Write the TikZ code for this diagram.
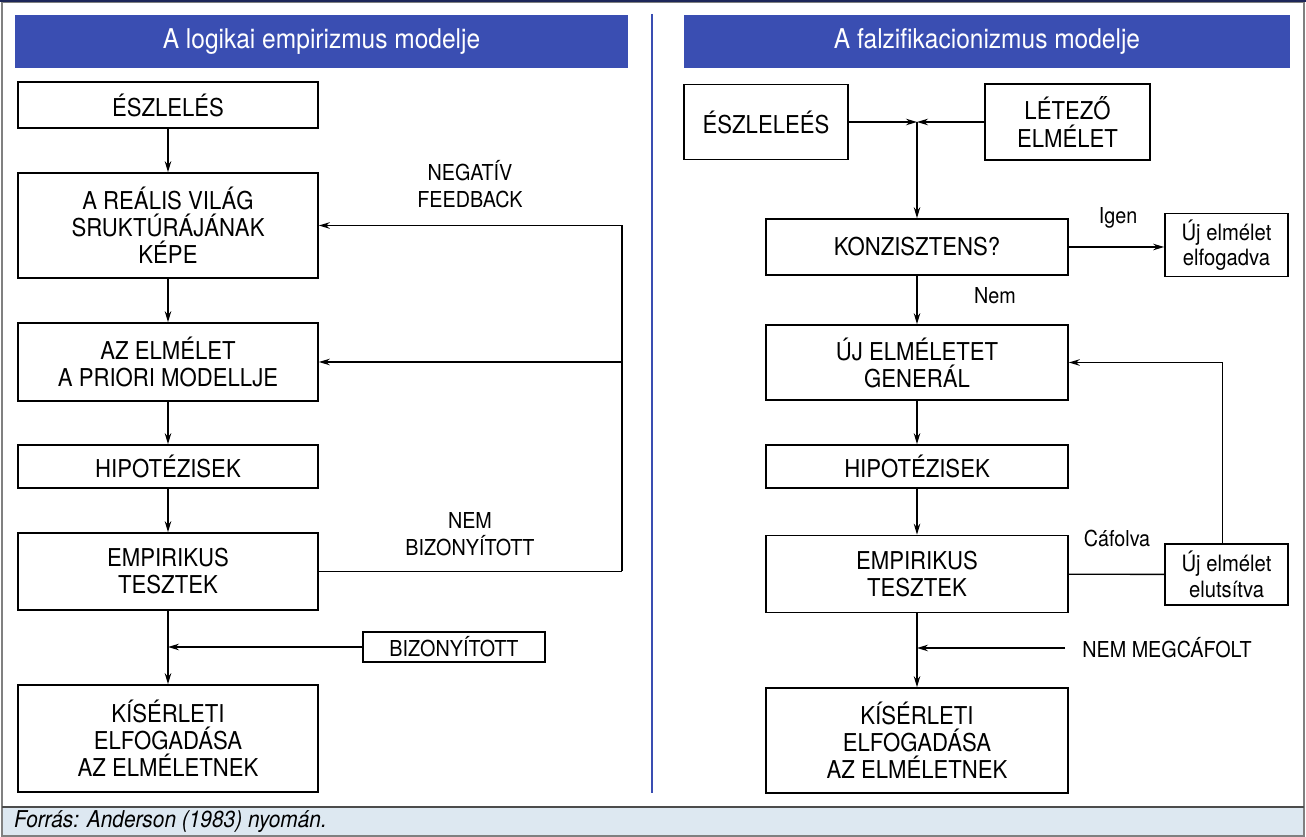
\documentclass[tikz,border=0pt]{standalone}
\usepackage{fontspec}
\setmainfont{TeX Gyre Heros}[FakeStretch=0.9]
\usepackage{xcolor}
\usepackage{tikz}
\usetikzlibrary{arrows.meta}
\usetikzlibrary{positioning}
\definecolor{titleblue}{RGB}{58,78,178}
\definecolor{footblue}{RGB}{221,232,241}
\tikzset{
    mybox/.style = {rectangle, draw=black, line width=0.95pt, align=center, fill=white, font=\fontsize{14}{15.4}\selectfont, minimum width=6cm, inner sep=1pt},
    mysmall/.style = {rectangle, draw=black, line width=0.95pt, align=center, font=\fontsize{12.8}{14.6}\selectfont, inner sep=1pt},
    mytitle/.style = {rectangle, fill=titleblue, text=white, font=\fontsize{15.5}{17}\selectfont, minimum height=1.06cm, inner sep=0pt},
}

\begin{document}
\begin{tikzpicture}[
	x=0.02cm, y=-0.02cm,
	font=\fontsize{12.5}{15.6}\selectfont
]
\tikzset{
    mylabel/.style = {align=center, inner sep=1pt},
    edgen/.style = {-, line width=0.75pt},
    edgea/.style = {-{Stealth[length=2.2mm,width=1.3mm]}, line width=0.75pt}
}
\useasboundingbox (0,0) rectangle (1306,837);
% frame and footer
\fill[footblue] (2,808) rectangle (1304,836);
\draw[gray, line width=0.6pt] (2,2) rectangle (1304,836);
\draw[titleblue!50!black, line width=1.6pt] (0,1) -- (1306,1);
\draw[gray!60!black, line width=1.2pt] (2,807) -- (1304,807);
\draw[titleblue, line width=1.6pt] (652,14) -- (652,793);
\node[anchor=west, font=\fontsize{13.2}{14}\selectfont\itshape] (src) at (8,822) {Forrás: Anderson (1983) nyomán.};
%
\node[mytitle, minimum width=12.26cm] (t1) at (321.5,41.5) {A logikai empirizmus modelje};
\node[mytitle, minimum width=12.12cm] (t2) at (987,41.5) {A falzifikacionizmus modelje};
%
\node[mybox, minimum height=0.92cm] (esz) at (168,105) {ÉSZLELÉS};
\node[mybox, minimum height=2.1cm] (kep) at (168,225.5) {A REÁLIS VILÁG\\SRUKTÚRÁJÁNAK\\KÉPE};
\node[mybox, minimum height=1.56cm] (mod) at (168,362) {AZ ELMÉLET\\A PRIORI MODELLJE};
\node[mybox, minimum height=0.86cm] (hip) at (168,466.5) {HIPOTÉZISEK};
\node[mybox, minimum height=1.54cm] (emp) at (168,571.5) {EMPIRIKUS\\TESZTEK};
\node[mybox, minimum height=2.14cm] (kis) at (168,738.5) {KÍSÉRLETI\\ELFOGADÁSA\\AZ ELMÉLETNEK};
\node[mysmall, font=\fontsize{12.5}{14}\selectfont, minimum width=3.64cm, minimum height=0.6cm] (biz) at (454,647) {BIZONYÍTOTT};
\node[mylabel] (neg) at (470,184) {NEGATÍV\\FEEDBACK};
\node[mylabel] (nbiz) at (470,534) {NEM\\BIZONYÍTOTT};
\coordinate (fb) at (622,571.5);
%
\draw[edgea] (esz) -- (kep);
\draw[edgea] (kep) -- (mod);
\draw[edgea] (mod) -- (hip);
\draw[edgea] (hip) -- (emp);
\draw[edgea] (emp) -- (kis);
\draw[edgen] (emp.east) -- (fb);
\draw[edgea] (fb) |- (kep.east);
\draw[edgea] (fb |- mod.east) -- (mod.east);
\draw[edgea] (biz) -- (biz -| emp.south);
%
\node[mybox, minimum width=3.28cm, minimum height=1.5cm] (esz2) at (766,122) {ÉSZLELEÉS};
\node[mybox, minimum width=3.3cm, minimum height=1.52cm] (let) at (1067.5,122) {LÉTEZŐ\\ELMÉLET};
\node[mybox, minimum width=6.04cm, minimum height=1.12cm] (kon) at (917,247) {KONZISZTENS?};
\node[mysmall, minimum width=2.46cm, minimum height=1.26cm] (elf) at (1226.5,245) {Új elmélet\\elfogadva};
\node[mybox, minimum width=6.04cm, minimum height=1.5cm] (gen) at (917,362.5) {ÚJ ELMÉLETET\\GENERÁL};
\node[mybox, minimum width=6.04cm, minimum height=0.86cm] (hip2) at (917,466.5) {HIPOTÉZISEK};
\node[mybox, minimum width=6.04cm, minimum height=1.54cm] (emp2) at (917,574) {EMPIRIKUS\\TESZTEK};
\node[mysmall, minimum width=2.46cm, minimum height=1.22cm] (elu) at (1226.5,574.5) {Új elmélet\\elutsítva};
\node[mybox, minimum width=6.04cm, minimum height=2.1cm] (kis2) at (917,740.5) {KÍSÉRLETI\\ELFOGADÁSA\\AZ ELMÉLETNEK};
\node[mylabel] (igen) at (1118,218) {Igen};
\node[mylabel] (nem) at (995,296) {Nem};
\node[mylabel] (caf) at (1117,538) {Cáfolva};
\node[mylabel, anchor=west, inner xsep=0.34cm] (nmc) at (1065,648) {NEM MEGCÁFOLT};
\coordinate (j) at (917,122);
%
\draw[edgea] (esz2) -- (j);
\draw[edgea] (let) -- (j);
\draw[edgea] (j) -- (kon);
\draw[edgea] (kon) -- (kon -| elf.west);
\draw[edgea] (kon) -- (gen);
\draw[edgea] (gen) -- (hip2);
\draw[edgea] (hip2) -- (emp2);
\draw[edgea] (emp2) -- (kis2);
\draw[edgen] (emp2) -- (elu);
\draw[edgea] ([xshift=-0.08cm]elu.north) |- (gen.east);
\draw[edgea] (nmc.west) -- (nmc.west -| emp2.south);
\end{tikzpicture}
\end{document}
